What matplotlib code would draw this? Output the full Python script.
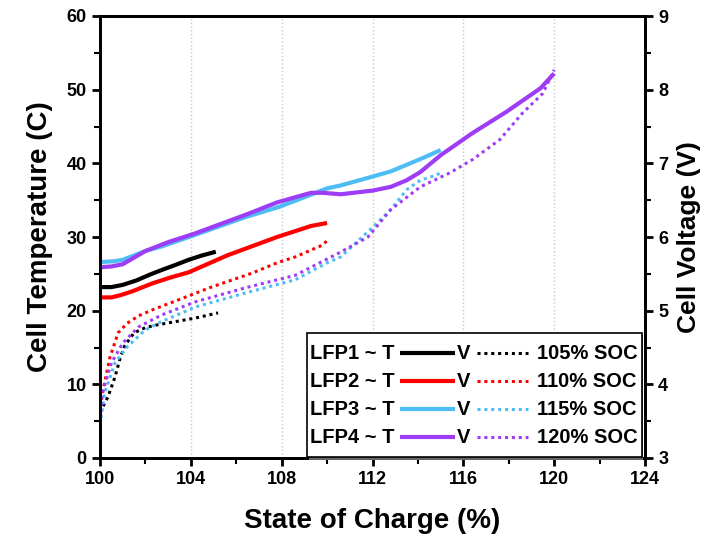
import matplotlib
matplotlib.use("Agg")
import matplotlib.pyplot as plt
from matplotlib.patches import Rectangle
from matplotlib.ticker import MultipleLocator

plt.rcParams["font.family"] = ["Liberation Sans", "DejaVu Sans"]
plt.rcParams["font.weight"] = "bold"

# temperature (solid) - state of charge vs cell temperature
soc_t1 = [100, 100.5, 101.0, 101.6, 102.2, 102.7, 103.4, 103.9, 104.5, 105.1]
temp1 = [23.2, 23.2, 23.5, 24.1, 24.9, 25.5, 26.3, 26.9, 27.5, 28.0]
soc_t2 = [100, 100.5, 100.9, 101.4, 102.3, 103.1, 103.9, 105.6, 107.8, 108.6, 109.3, 110.0]
temp2 = [21.8, 21.8, 22.1, 22.6, 23.7, 24.5, 25.2, 27.5, 30.0, 30.8, 31.5, 31.9]
soc_t3 = [100, 100.6, 101.0, 101.5, 102.0, 102.7, 104.2, 106.4, 107.9, 109.0, 110.0, 110.6, 112.0, 112.8, 113.5, 114.2, 115.0]
temp3 = [26.6, 26.7, 26.9, 27.5, 28.1, 28.7, 30.3, 32.7, 34.1, 35.4, 36.6, 37.0, 38.2, 38.9, 39.8, 40.7, 41.8]
soc_t4 = [100, 100.5, 101.0, 101.5, 102.0, 103.0, 104.2, 106.4, 107.8, 108.6, 109.3, 109.8, 110.6, 112.0, 112.8, 113.5, 114.1, 115.0, 116.4, 117.9, 119.4, 120.0]
temp4 = [25.9, 26.0, 26.3, 27.2, 28.1, 29.3, 30.5, 33.0, 34.7, 35.4, 36.0, 36.0, 35.8, 36.3, 36.8, 37.7, 38.8, 41.1, 44.1, 47.0, 50.2, 52.2]

# voltage (dotted)
soc_v1 = [100, 100.35, 100.66, 100.9, 101.1, 101.5, 102.0, 102.4, 103.3, 104.2, 105.2]
volt1 = [3.62, 3.83, 4.10, 4.37, 4.53, 4.70, 4.77, 4.80, 4.85, 4.90, 4.97]
soc_v2 = [100, 100.2, 100.44, 100.8, 101.2, 101.7, 102.3, 103.4, 104.9, 106.7, 107.8, 108.6, 109.8, 110.0]
volt2 = [3.70, 4.02, 4.37, 4.70, 4.83, 4.93, 5.01, 5.14, 5.32, 5.51, 5.65, 5.73, 5.89, 5.95]
soc_v3 = [100, 100.2, 100.66, 101.2, 102.0, 102.7, 104.2, 106.4, 108.6, 110.0, 110.6, 112.0, 112.8, 113.5, 114.1, 114.8, 115.0]
volt3 = [3.45, 3.88, 4.29, 4.51, 4.74, 4.85, 5.05, 5.24, 5.42, 5.65, 5.73, 6.13, 6.37, 6.64, 6.77, 6.84, 6.87]
soc_v4 = [100, 100.1, 100.5, 101.0, 101.7, 102.7, 104.2, 106.4, 108.6, 110.5, 111.8, 112.8, 114.1, 115.4, 116.4, 117.6, 118.6, 119.5, 120.0]
volt4 = [3.52, 3.88, 4.29, 4.56, 4.78, 4.94, 5.12, 5.31, 5.48, 5.78, 6.00, 6.37, 6.68, 6.87, 7.05, 7.32, 7.68, 7.95, 8.27]

names = ["LFP1", "LFP2", "LFP3", "LFP4"]
soc_labels = ["105% SOC", "110% SOC", "115% SOC", "120% SOC"]
colors = ["black", "#ff0000", "#4fbdf5", "#9e3df5"]

dot_style = (0, (1, 1.25))

fig = plt.figure(figsize=(7.08, 5.44), dpi=100)
ax = fig.add_axes([100 / 708, 86 / 544, 545 / 708, 442 / 544])
ax2 = ax.twinx()

temps = [(soc_t1, temp1), (soc_t2, temp2), (soc_t3, temp3), (soc_t4, temp4)]
volts = [(soc_v1, volt1), (soc_v2, volt2), (soc_v3, volt3), (soc_v4, volt4)]
for (x, y), c in zip(temps, colors):
	ax.plot(x, y, color=c, lw=3, solid_capstyle='butt', solid_joinstyle='round')
for (x, y), c in zip(volts, colors):
	ax2.plot(x, y, color=c, lw=2.2, linestyle=dot_style)

ax.set_xlim(100, 124)
ax.set_ylim(0, 60)
ax2.set_ylim(3, 9)
ax.xaxis.set_major_locator(MultipleLocator(4))
ax.xaxis.set_minor_locator(MultipleLocator(2))
ax.yaxis.set_major_locator(MultipleLocator(10))
ax.yaxis.set_minor_locator(MultipleLocator(5))
ax2.yaxis.set_major_locator(MultipleLocator(1))
ax2.yaxis.set_minor_locator(MultipleLocator(0.5))

ax.grid(axis='x', color='#c8c8c8', linestyle=':', lw=1)
ax.set_axisbelow(True)

for a in (ax, ax2):
	a.tick_params(which='major', direction='out', length=6, width=2, labelsize=13)
	a.tick_params(which='minor', direction='out', length=4, width=1.5)
	for s in a.spines.values():
		s.set_linewidth(2)
ax.tick_params(axis='y', which='both', right=False)

ax.set_xlabel("State of Charge (%)", fontsize=20, fontweight='bold', labelpad=14)
ax.set_ylabel("Cell Temperature (C)", fontsize=20, fontweight='bold', labelpad=10)
ax2.set_ylabel("Cell Voltage (V)", fontsize=19, fontweight='bold', labelpad=6)

# legend box drawn by hand (T solid, V dotted per row)
tr = ax2.transAxes
ax2.add_patch(Rectangle((0.383, -0.004), 0.614, 0.282, transform=tr, facecolor='#666666',
	edgecolor='none', zorder=9, clip_on=False))
ax2.add_patch(Rectangle((0.380, 0.003), 0.614, 0.280, transform=tr, facecolor='white',
	edgecolor='black', lw=1.2, zorder=10, clip_on=False))
for i, (n, lab, c) in enumerate(zip(names, soc_labels, colors)):
	yy = 0.237 - i * 0.0633
	ax2.text(0.386, yy, f"{n} ~ T", transform=tr, fontsize=14.5, fontweight='bold',
		va='center', ha='left', zorder=11)
	ax2.plot([0.551, 0.651], [yy, yy], transform=tr, color=c, lw=3, solid_capstyle='butt',
		zorder=11, clip_on=False)
	ax2.text(0.655, yy, "V", transform=tr, fontsize=14.5, fontweight='bold',
		va='center', ha='left', zorder=11)
	ax2.plot([0.692, 0.785], [yy, yy], transform=tr, color=c, lw=2.2, linestyle=dot_style,
		zorder=11, clip_on=False)
	ax2.text(0.802, yy, lab, transform=tr, fontsize=14.5, fontweight='bold',
		va='center', ha='left', zorder=11)

fig.savefig("out.png", dpi=100)
